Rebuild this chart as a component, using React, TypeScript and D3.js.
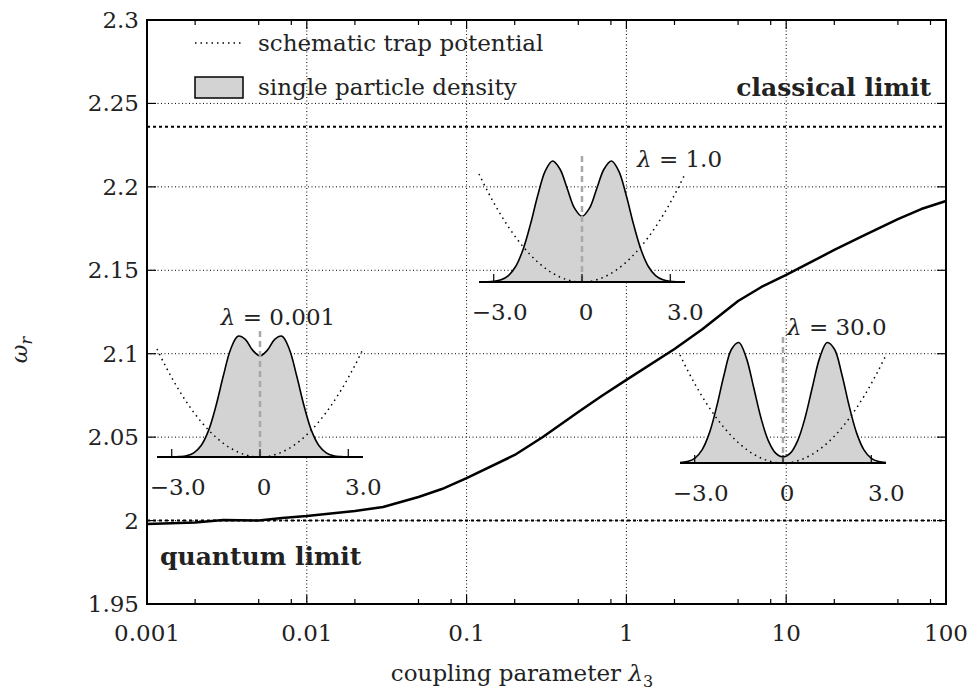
import React from "react";
import * as d3 from "d3";

// main curve: omega_r versus coupling parameter lambda_3
const lambdaValues = [
  0.001, 0.002, 0.003, 0.005, 0.007, 0.01, 0.02, 0.03, 0.05, 0.07, 0.1, 0.2, 0.3,
  0.5, 0.7, 1, 2, 3, 5, 7, 10, 20, 30, 50, 70, 100,
];
const omegaValues = [
  1.998, 1.9988, 2.0004, 2.0, 2.0015, 2.0027, 2.0057, 2.0081, 2.0141, 2.0189,
  2.0255, 2.0393, 2.0501, 2.0651, 2.0747, 2.0843, 2.1028, 2.1148, 2.1316, 2.14,
  2.1472, 2.1622, 2.1705, 2.1807, 2.1867, 2.1915,
];
const quantumLimit = 2.0;
const classicalLimit = 2.236;

const xTicks = [0.001, 0.01, 0.1, 1, 10, 100];
const xTickLabels = ["0.001", "0.01", "0.1", "1", "10", "100"];
const xMinorFactors = [2, 5, 8];
const yTicks = [1.95, 2.0, 2.05, 2.1, 2.15, 2.2, 2.25, 2.3];
const yTickLabels = ["1.95", "2", "2.05", "2.1", "2.15", "2.2", "2.25", "2.3"];

// insets: position coordinate and sampled curves
const insetX = [
  -3.5, -3.25, -3, -2.75, -2.5, -2.25, -2, -1.75, -1.5, -1.25, -1, -0.75, -0.5, -0.25,
  0, 0.25, 0.5, 0.75, 1, 1.25, 1.5, 1.75, 2, 2.25, 2.5, 2.75, 3, 3.25, 3.5,
];
const trapPotential = [
  12.25, 10.56, 9, 7.56, 6.25, 5.06, 4, 3.06, 2.25, 1.56, 1, 0.56, 0.25, 0.06, 0,
  0.06, 0.25, 0.56, 1, 1.56, 2.25, 3.06, 4, 5.06, 6.25, 7.56, 9, 10.56, 12.25,
];
const densityWeak = [
  0, 0, 0.0005, 0.003, 0.01, 0.034, 0.095, 0.218, 0.419, 0.667, 0.889, 0.998, 0.973,
  0.883, 0.836, 0.883, 0.973, 0.998, 0.889, 0.667, 0.419, 0.218, 0.095, 0.034, 0.01,
  0.003, 0.0005, 0, 0,
];
const densityMedium = [
  0, 0.001, 0.005, 0.018, 0.053, 0.13, 0.271, 0.478, 0.719, 0.917, 1.0, 0.934, 0.771,
  0.608, 0.542, 0.608, 0.771, 0.934, 1.0, 0.917, 0.719, 0.478, 0.271, 0.13, 0.053,
  0.018, 0.005, 0.001, 0,
];
const densityStrong = [
  0.003, 0.012, 0.039, 0.109, 0.249, 0.47, 0.732, 0.94, 0.996, 0.871, 0.628, 0.374,
  0.185, 0.081, 0.05, 0.081, 0.185, 0.374, 0.628, 0.871, 0.996, 0.94, 0.732, 0.47,
  0.249, 0.109, 0.039, 0.012, 0.003,
];
const insetTicks = [-3, 0, 3];
const insetTickLabels = ["\u22123.0", "0", "3.0"];
const insetLambdas = ["0.001", "1.0", "30.0"];

const W = 974;
const H = 691;
const M = { left: 147, right: 946, top: 20, bottom: 604 };
const FONT = '"DejaVu Serif", serif';
const FS = 23;

const x = d3.scaleLog().domain([0.001, 100]).range([M.left, M.right]);
const y = d3.scaleLinear().domain([1.95, 2.3]).range([M.bottom, M.top]);

const insetScaleX = d3.scaleLinear().domain([-3.5, 3.5]).range([-103, 103]);
const insetDensityY = d3.scaleLinear().domain([0, 1]).range([0, -121]);
const insetTrapY = d3.scaleLinear().domain([0, 12.25]).range([0, -108]);

// inset placement (pixel layout)
const insetLayout = [
  { cx: 260, base: 457, labelX: 278, labelY: 325, anchor: "middle" },
  { cx: 582, base: 282, labelX: 637, labelY: 167, anchor: "start" },
  { cx: 783, base: 463, labelX: 787, labelY: 335, anchor: "start" },
];
const insetDensities = [densityWeak, densityMedium, densityStrong];
const insetLabelNudge = [6, 4, 15];

function Inset({ i }: { i: number }) {
  const lay = insetLayout[i];
  const dens = insetDensities[i];
  const pts = insetX.map((v, k) => [v, dens[k]] as [number, number]);
  const area = d3
    .area<[number, number]>()
    .x((d) => insetScaleX(d[0]))
    .y0(0)
    .y1((d) => insetDensityY(Math.max(0, d[1])))
    .curve(d3.curveCatmullRom);
  const line = d3
    .line<[number, number]>()
    .x((d) => insetScaleX(d[0]))
    .y((d) => insetDensityY(d[1]))
    .curve(d3.curveCatmullRom);
  const trap = d3
    .line<number>()
    .x((d, k) => insetScaleX(insetX[k]))
    .y((d) => insetTrapY(d))
    .curve(d3.curveCatmullRom);
  return (
    <g>
      <g transform={`translate(${lay.cx},${lay.base})`}>
        <path d={area(pts) || ""} fill="#d3d3d3" stroke="none" />
        <path d={line(pts) || ""} fill="none" stroke="#000" strokeWidth={1.6} />
        <line x1={0} x2={0} y1={0} y2={-126} stroke="#a8a8a8" strokeWidth={2.5} strokeDasharray="6,4" />
        <path d={trap(trapPotential) || ""} fill="none" stroke="#000" strokeWidth={1.5} strokeDasharray="1.5,4" />
        <line x1={insetScaleX(-3.5)} x2={insetScaleX(3.5)} y1={0} y2={0} stroke="#000" strokeWidth={1.8} />
        {insetTicks.map((t) => (
          <line key={t} x1={insetScaleX(t)} x2={insetScaleX(t)} y1={0} y2={-8} stroke="#000" strokeWidth={1.2} />
        ))}
        {insetTicks.map((t, k) => (
          <text key={"l" + t} x={insetScaleX(t) + insetLabelNudge[k]} y={38} textAnchor="middle">
            {insetTickLabels[k]}
          </text>
        ))}
      </g>
      <text x={lay.labelX} y={lay.labelY} textAnchor={lay.anchor as any}>
        <tspan fontStyle="italic">λ</tspan>
        <tspan> = {insetLambdas[i]}</tspan>
      </text>
    </g>
  );
}

export default function App() {
  const curve = d3
    .line<number>()
    .x((d, i) => x(lambdaValues[i]))
    .y((d) => y(d));

  const minorTicks: number[] = [];
  xTicks.slice(0, -1).forEach((t) => xMinorFactors.forEach((f) => minorTicks.push(t * f)));

  return (
    <svg
      width={W}
      height={H}
      style={{ position: "absolute", left: 0, top: 0, background: "#fff", fontFamily: FONT, fontSize: FS, fill: "#222" }}
    >
      <rect x={0} y={0} width={W} height={H} fill="#fff" />
      {/* grid */}
      {xTicks.slice(1, -1).map((t) => (
        <line key={"gx" + t} x1={x(t)} x2={x(t)} y1={M.top} y2={M.bottom} stroke="#000" strokeWidth={1} strokeDasharray="1,2.5" />
      ))}
      {yTicks.slice(1, -1).map((t) => (
        <line key={"gy" + t} x1={M.left} x2={M.right} y1={y(t)} y2={y(t)} stroke="#000" strokeWidth={1} strokeDasharray="1,2.5" />
      ))}
      {/* limits */}
      <line x1={M.left} x2={M.right} y1={y(classicalLimit)} y2={y(classicalLimit)} stroke="#000" strokeWidth={2} strokeDasharray="3,3" />
      <line x1={M.left} x2={M.right} y1={y(quantumLimit)} y2={y(quantumLimit)} stroke="#000" strokeWidth={2} strokeDasharray="3,3" />

      {/* insets */}
      {[0, 1, 2].map((i) => (
        <Inset key={i} i={i} />
      ))}

      {/* main curve */}
      <path d={curve(omegaValues) || ""} fill="none" stroke="#000" strokeWidth={2.5} strokeLinejoin="round" />

      {/* legend */}
      <line x1={195} x2={241} y1={43} y2={43} stroke="#000" strokeWidth={1.5} strokeDasharray="1.5,4" />
      <text x={258} y={51}>schematic trap potential</text>
      <rect x={195} y={77} width={48} height={21} fill="#d3d3d3" stroke="#000" strokeWidth={1.5} />
      <text x={258} y={95}>single particle density</text>

      <text x={931} y={96} textAnchor="end" fontWeight="bold" fontSize={25}>classical limit</text>
      <text x={160} y={565} fontWeight="bold" fontSize={25}>quantum limit</text>

      {/* ticks */}
      {xTicks.map((t) => (
        <g key={"tx" + t}>
          <line x1={x(t)} x2={x(t)} y1={M.bottom} y2={M.bottom - 9} stroke="#000" strokeWidth={1.2} />
          <line x1={x(t)} x2={x(t)} y1={M.top} y2={M.top + 9} stroke="#000" strokeWidth={1.2} />
        </g>
      ))}
      {minorTicks.map((t) => (
        <g key={"mx" + t}>
          <line x1={x(t)} x2={x(t)} y1={M.bottom} y2={M.bottom - 5} stroke="#000" strokeWidth={1.2} />
          <line x1={x(t)} x2={x(t)} y1={M.top} y2={M.top + 5} stroke="#000" strokeWidth={1.2} />
        </g>
      ))}
      {yTicks.map((t) => (
        <g key={"ty" + t}>
          <line x1={M.left} x2={M.left + 9} y1={y(t)} y2={y(t)} stroke="#000" strokeWidth={1.2} />
          <line x1={M.right} x2={M.right - 9} y1={y(t)} y2={y(t)} stroke="#000" strokeWidth={1.2} />
        </g>
      ))}
      <rect x={M.left} y={M.top} width={M.right - M.left} height={M.bottom - M.top} fill="none" stroke="#000" strokeWidth={2} />

      {/* tick labels */}
      {xTicks.map((t, i) => (
        <text key={"lx" + t} x={x(t)} y={641} textAnchor="middle">
          {xTickLabels[i]}
        </text>
      ))}
      {yTicks.map((t, i) => (
        <text key={"ly" + t} x={139} y={y(t) + 8} textAnchor="end">
          {yTickLabels[i]}
        </text>
      ))}

      {/* axis titles */}
      <text x={522} y={681} textAnchor="middle">
        coupling parameter <tspan fontStyle="italic">λ</tspan>
        <tspan fontSize={16} dy={6}>3</tspan>
      </text>
      <text transform="translate(27,350) rotate(-90)" textAnchor="middle">
        <tspan fontStyle="italic">ω</tspan>
        <tspan fontStyle="italic" fontSize={16} dy={5}>r</tspan>
      </text>
    </svg>
  );
}
